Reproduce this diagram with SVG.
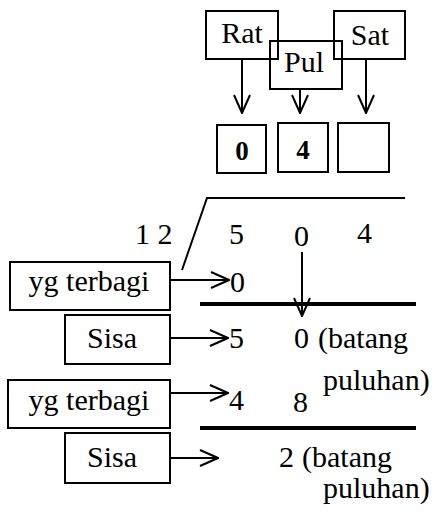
<svg xmlns="http://www.w3.org/2000/svg" width="435" height="511" viewBox="0 0 435 511">
<style>
text{font-family:"Liberation Serif","Times New Roman",serif;font-size:30px;fill:#000}
.b{fill:#fff;stroke:#000;stroke-width:2}
.l{stroke:#000;stroke-width:2;fill:none}
.t{stroke:#000;stroke-width:4;fill:none}
.bd{font-weight:bold;font-size:27px}
.m{text-anchor:middle}
</style>
<defs>
<marker id="a" viewBox="0 0 20 20" refX="19" refY="10" markerWidth="20" markerHeight="20" markerUnits="userSpaceOnUse" orient="auto">
<path d="M1,2 L19,10 L1,18" fill="none" stroke="#000" stroke-width="2"/>
</marker>
</defs>
<g id="rat"><rect class="b" x="206" y="11" width="72" height="48"/><text class="m" x="242" y="43">Rat</text></g>
<g id="sat"><rect class="b" x="334" y="11" width="71" height="48"/><text class="m" x="370" y="45">Sat</text></g>
<g id="pul"><rect class="b" x="270" y="41" width="72" height="48" style="fill:none"/><text class="m" x="304" y="72">Pul</text></g>
<g id="d0"><rect class="b" x="217" y="125" width="49" height="48"/><text class="bd m" x="242" y="160">0</text></g>
<g id="d4"><rect class="b" x="278" y="123" width="50" height="49"/><text class="bd m" x="303" y="159">4</text></g>
<g id="dE"><rect class="b" x="338" y="123" width="51" height="49"/></g>
<g id="yg1"><rect class="b" x="10" y="262" width="160" height="48"/><text class="m" x="89" y="291">yg terbagi</text></g>
<g id="sisa1"><rect class="b" x="65" y="315" width="105" height="49"/><text class="m" x="112" y="348">Sisa</text></g>
<g id="yg2"><rect class="b" x="8" y="380" width="162" height="48"/><text class="m" x="89" y="410">yg terbagi</text></g>
<g id="sisa2"><rect class="b" x="65" y="433" width="105" height="50"/><text class="m" x="112" y="467">Sisa</text></g>
<g id="division">
<path class="l" d="M182,270 L207,198 L405,198"/>
<text x="135" y="244">1 2</text>
<text x="229" y="244">5</text>
<text x="294" y="246">0</text>
<text x="357" y="243">4</text>
<text x="230" y="292">0</text>
<line class="t" x1="200" y1="304" x2="416" y2="304"/>
<text x="229" y="348">5</text>
<text x="294" y="348">0</text>
<text x="318" y="348">(batang</text>
<text x="323" y="390">puluhan)</text>
<text x="229" y="410">4</text>
<text x="293" y="412">8</text>
<line class="t" x1="200" y1="428" x2="416" y2="428"/>
<text x="279" y="467">2</text>
<text x="302" y="467">(batang</text>
<text x="323" y="498">puluhan)</text>
</g>
<g id="connectors">
<line class="l" x1="242" y1="59" x2="242" y2="113" marker-end="url(#a)"/>
<line class="l" x1="300" y1="89" x2="300" y2="113" marker-end="url(#a)"/>
<line class="l" x1="366" y1="59" x2="366" y2="113" marker-end="url(#a)"/>
<line class="l" x1="302" y1="252" x2="302" y2="316" marker-end="url(#a)"/>
<line class="l" x1="170" y1="280" x2="229" y2="280" marker-end="url(#a)"/>
<line class="l" x1="170" y1="338" x2="228" y2="338" marker-end="url(#a)"/>
<line class="l" x1="170" y1="393" x2="228" y2="393" marker-end="url(#a)"/>
<line class="l" x1="170" y1="458" x2="218" y2="458" marker-end="url(#a)"/>
</g>
</svg>
